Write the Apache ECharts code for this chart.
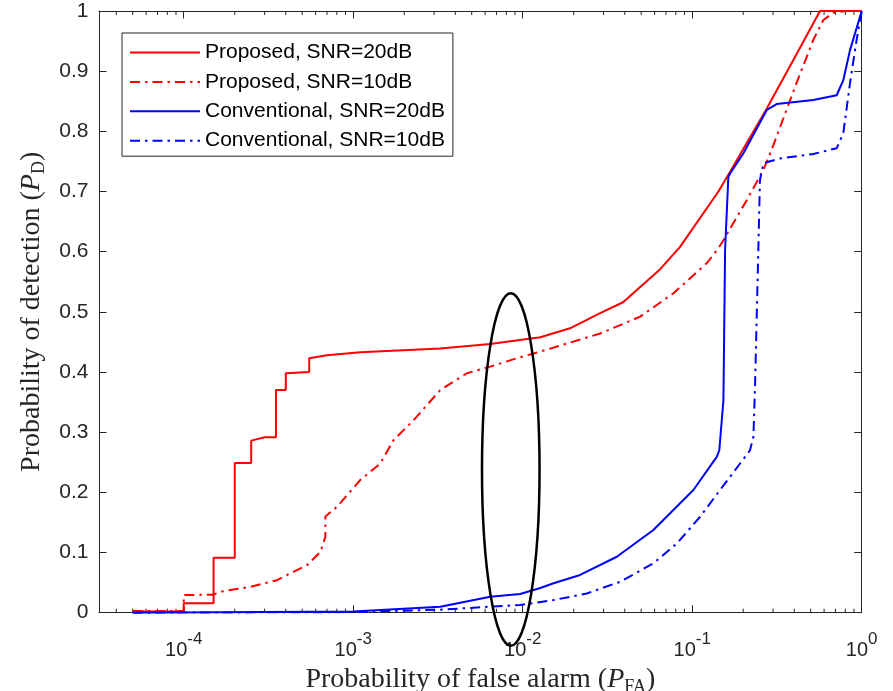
<!DOCTYPE html>
<html><head><meta charset="utf-8">
<script src="https://cdn.jsdelivr.net/npm/echarts@6.0.0/dist/echarts.min.js"></script>
<style>html,body{margin:0;padding:0;background:#fff}#c{width:893px;height:691px}</style>
</head><body><div id="c"></div>
<script>
// ---- data ----
const seriesNames = ['Proposed, SNR=20dB', 'Proposed, SNR=10dB', 'Conventional, SNR=20dB', 'Conventional, SNR=10dB'];

const propSNR20 = [
  [5e-5,0.002],[1e-4,0.002],[1e-4,0.0156],[1.5e-4,0.0156],[1.5e-4,0.0914],[2e-4,0.0914],
  [2e-4,0.249],[2.5e-4,0.249],[2.5e-4,0.286],[3e-4,0.2915],[3.5e-4,0.2915],[3.5e-4,0.370],
  [4e-4,0.370],[4e-4,0.398],[5.5e-4,0.400],[5.5e-4,0.423],[7e-4,0.428],[1.1e-3,0.433],
  [3.26e-3,0.439],[6.43e-3,0.4466],[0.0127,0.4577],[0.019,0.4727],[0.0286,0.498],[0.0391,0.516],
  [0.0647,0.571],[0.0848,0.608],[0.1427,0.700],[0.1673,0.733],[0.2754,0.838],[0.395,0.9186],
  [0.5675,1.0],[1,1]
];
const propSNR10 = [
  [5e-5,0.003],[1e-4,0.003],[1e-4,0.0294],[1.5e-4,0.030],[1.65e-4,0.035],[2.47e-4,0.043],
  [3.55e-4,0.054],[4.43e-4,0.068],[5.34e-4,0.079],[6.4e-4,0.101],[6.85e-4,0.126],[6.85e-4,0.160],
  [8.02e-4,0.176],[1.1e-3,0.2205],[1.445e-3,0.248],[1.73e-3,0.287],[2.27e-3,0.320],[3.26e-3,0.370],
  [4.69e-3,0.398],[6.43e-3,0.409],[9.25e-3,0.423],[0.0127,0.434],[0.0286,0.464],[0.0493,0.492],
  [0.0775,0.531],[0.122,0.581],[0.1427,0.6056],[0.1528,0.619],[0.21,0.686],[0.263,0.736],
  [0.294,0.769],[0.4045,0.874],[0.518,0.952],[0.594,0.985],[0.68,0.997],[0.80,1.0],[1,1]
];
const convSNR20 = [
  [5e-5,0.0],[1e-3,0.002],[3.26e-3,0.010],[6.43e-3,0.0266],[9.66e-3,0.031],[0.0127,0.041],
  [0.0152,0.049],[0.0218,0.0627],[0.0359,0.093],[0.059,0.1374],[0.1016,0.204],[0.1396,0.259],
  [0.1445,0.270],[0.1528,0.353],[0.1563,0.6027],[0.1634,0.7246],[0.1673,0.730],[0.2005,0.7635],
  [0.2754,0.8355],[0.315,0.8454],[0.518,0.852],[0.712,0.860],[0.779,0.885],[0.853,0.935],[1,1]
];
const convSNR10 = [
  [5e-5,0.0],[1e-3,0.001],[3.26e-3,0.005],[6.43e-3,0.010],[9.66e-3,0.0128],[0.0152,0.021],
  [0.0239,0.032],[0.0376,0.0515],[0.059,0.082],[0.0811,0.115],[0.1113,0.1595],[0.146,0.204],
  [0.1916,0.248],[0.2193,0.270],[0.2297,0.2925],[0.235,0.381],[0.2455,0.603],[0.251,0.719],
  [0.263,0.747],[0.33,0.755],[0.518,0.7623],[0.712,0.772],[0.779,0.797],[0.853,0.880],
  [0.933,0.952],[1,1]
];

// axis ticks
const xMajorTicks = [1e-4, 1e-3, 1e-2, 1e-1, 1];
const xMinorTicks = [
  4e-5,5e-5,6e-5,7e-5,8e-5,9e-5,
  2e-4,3e-4,4e-4,5e-4,6e-4,7e-4,8e-4,9e-4,
  2e-3,3e-3,4e-3,5e-3,6e-3,7e-3,8e-3,9e-3,
  2e-2,3e-2,4e-2,5e-2,6e-2,7e-2,8e-2,9e-2,
  2e-1,3e-1,4e-1,5e-1,6e-1,7e-1,8e-1,9e-1
];
const xRange = [3.1623e-5, 1];
const yRange = [0, 1];
const yStep = 0.1;

// annotation ellipse: [centerX, centerY, leftX, rightX, topY, bottomY]
const ellipseBox = [8.5e-3, 0.238, 5.75e-3, 0.01257, 0.531, -0.055];

// ---- chart ----
const AX = '#262626';
const RED = '#ff0000', BLUE = '#0000ff';
const DASHDOT = [10, 5, 2.5, 5];

function isMajor(v) {
  const lg = Math.log10(v);
  return xMajorTicks.some(t => Math.abs(Math.log10(t) - lg) < 1e-6);
}

const chart = echarts.init(document.getElementById('c'), null, {renderer: 'canvas'});

const lineSeries = (name, data, color, dashed) => ({
  name, type: 'line', data, xAxisIndex: 0, yAxisIndex: 0,
  showSymbol: false, symbol: 'none', smooth: false, animation: false,
  lineStyle: {color, width: 2, type: dashed ? DASHDOT : 'solid'},
  itemStyle: {color}, z: 3
});

const titleRich = {
  t: {fontFamily: 'Liberation Serif', fontSize: 28, color: AX, lineHeight: 31, verticalAlign: 'top'},
  i: {fontFamily: 'Liberation Serif', fontStyle: 'italic', fontSize: 28, color: AX, lineHeight: 31, verticalAlign: 'top'},
  sub: {fontFamily: 'Liberation Serif', fontSize: 18, color: AX, lineHeight: 18, verticalAlign: 'bottom'}
};

const option = {
  animation: false,
  backgroundColor: '#fff',
  grid: {left: 99, right: 31.3, top: 11, bottom: 78.3, containLabel: false, outerBoundsMode: 'none'},
  legend: {
    data: seriesNames,
    orient: 'vertical', left: 122, top: 33,
    itemWidth: 70, itemHeight: 12, itemGap: 8.4,
    padding: [9, 8, 5, 7],
    borderColor: AX, borderWidth: 1, backgroundColor: '#fff',
    itemStyle: {opacity: 0},
    textStyle: {fontFamily: 'Liberation Sans', fontSize: 21, color: '#000', lineHeight: 21}
  },
  xAxis: [
    {
      type: 'log', logBase: 10, min: xRange[0], max: xRange[1], position: 'bottom',
      axisLine: {show: true, onZero: false, lineStyle: {color: AX, width: 1}},
      axisTick: {show: true, inside: true, length: 7.5, lineStyle: {color: AX}},
      splitLine: {show: false}, minorTick: {show: false},
      axisLabel: {
        margin: 18, color: AX, showMinLabel: true,
        formatter: v => isMajor(v) ? '{b|10}{s|' + Math.round(Math.log10(v)) + '}' : '',
        rich: {
          b: {fontFamily: 'Liberation Sans', fontSize: 20, color: AX, lineHeight: 30, verticalAlign: 'bottom'},
          s: {fontFamily: 'Liberation Sans', fontSize: 17, color: AX, lineHeight: 17, verticalAlign: 'top'}
        }
      },
      name: '{t|Probability of false alarm (}{i|P}{sub|FA}{t|)}',
      nameLocation: 'middle', nameGap: 48,
      nameTextStyle: {rich: titleRich}
    },
    {
      type: 'log', logBase: 10, min: xRange[0], max: xRange[1], position: 'top',
      axisLine: {show: true, onZero: false, lineStyle: {color: AX, width: 1}},
      axisTick: {show: true, inside: true, length: 7.5, lineStyle: {color: AX}},
      axisLabel: {show: false}, splitLine: {show: false}
    }
  ],
  yAxis: [
    {
      type: 'value', min: yRange[0], max: yRange[1], interval: yStep, position: 'left',
      axisLine: {show: true, onZero: false, lineStyle: {color: AX, width: 1}},
      axisTick: {show: true, inside: true, length: 7.5, lineStyle: {color: AX}},
      splitLine: {show: false},
      axisLabel: {margin: 10.5, color: AX, fontFamily: 'Liberation Sans', fontSize: 21},
      name: '{t|Probability of detection (}{i|P}{sub|D}{t|)}',
      nameLocation: 'middle', nameGap: 48,
      nameTextStyle: {rich: titleRich}
    },
    {
      type: 'value', min: yRange[0], max: yRange[1], interval: yStep, position: 'right',
      axisLine: {show: true, onZero: false, lineStyle: {color: AX, width: 1}},
      axisTick: {show: true, inside: true, length: 7.5, lineStyle: {color: AX}},
      axisLabel: {show: false}, splitLine: {show: false}
    }
  ],
  series: [
    lineSeries(seriesNames[0], propSNR20, RED, false),
    lineSeries(seriesNames[1], propSNR10, RED, true),
    lineSeries(seriesNames[2], convSNR20, BLUE, false),
    lineSeries(seriesNames[3], convSNR10, BLUE, true),
    {
      name: 'minorTicks', type: 'custom', xAxisIndex: 0, yAxisIndex: 0, silent: true, z: 1,
      data: xMinorTicks.map(v => [v, 0]),
      renderItem: (params, api) => {
        const b = api.coord([api.value(0), yRange[0]]);
        const t = api.coord([api.value(0), yRange[1]]);
        const st = {stroke: AX, lineWidth: 1};
        return {type: 'group', children: [
          {type: 'line', shape: {x1: b[0], y1: b[1], x2: b[0], y2: b[1] - 4}, style: st},
          {type: 'line', shape: {x1: t[0], y1: t[1], x2: t[0], y2: t[1] + 4}, style: st}
        ]};
      }
    },
    {
      name: 'ellipse', type: 'custom', xAxisIndex: 0, yAxisIndex: 0, silent: true, z: 10, clip: false,
      data: [ellipseBox],
      renderItem: (params, api) => {
        const l = api.coord([api.value(2), api.value(1)]);
        const r = api.coord([api.value(3), api.value(1)]);
        const tp = api.coord([api.value(0), api.value(4)]);
        const bt = api.coord([api.value(0), api.value(5)]);
        return {type: 'ellipse',
          shape: {cx: (l[0] + r[0]) / 2, cy: (tp[1] + bt[1]) / 2, rx: (r[0] - l[0]) / 2, ry: (bt[1] - tp[1]) / 2},
          style: {fill: 'none', stroke: '#000', lineWidth: 2.5}};
      }
    }
  ]
};
chart.setOption(option);
</script></body></html>
